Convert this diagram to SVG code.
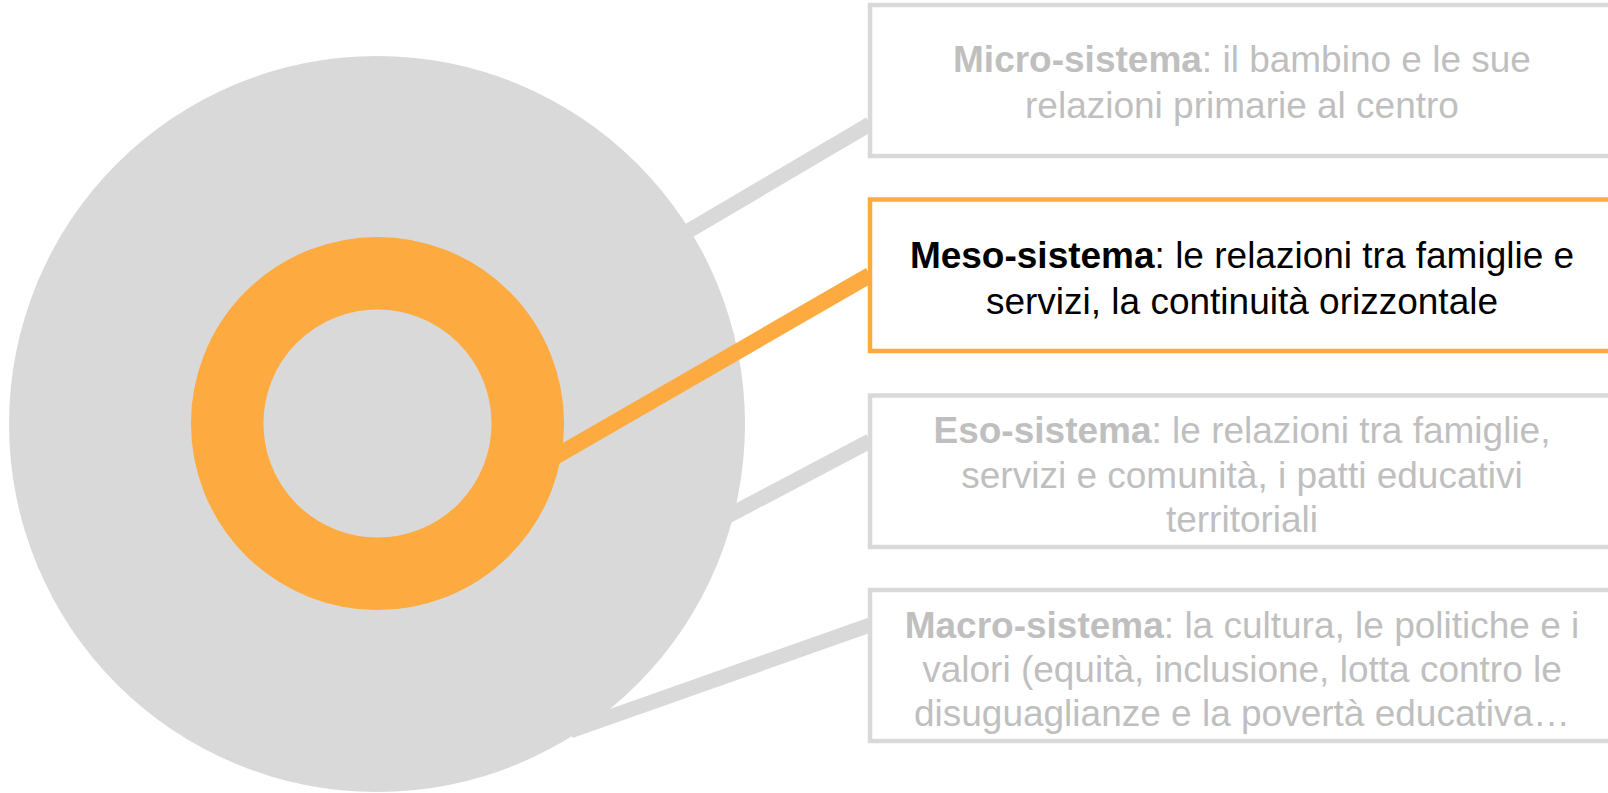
<svg xmlns="http://www.w3.org/2000/svg" width="1608" height="793" viewBox="0 0 1608 793">
<style>
.box{fill:#FFFFFF;stroke:#D9D9D9;stroke-width:4.5}
.box.hl{stroke:#FDAB41}
.t{font-family:"Liberation Sans",Arial,sans-serif;font-size:37px;text-anchor:middle;fill:#BFBFBF}
.t.hl{fill:#000000}
.b{font-weight:bold}
.ln{stroke:#D9D9D9;stroke-width:15;fill:none}
.ln.hl{stroke:#FDAB41;stroke-width:16}
</style>
<rect width="1608" height="793" fill="#FFFFFF"/>
<g id="outer-circle">
<circle cx="377" cy="424" r="368" fill="#D9D9D9"/>
</g>
<g id="meso-ring">
<circle cx="377.5" cy="423.5" r="150.3" fill="none" stroke="#FDAB41" stroke-width="72.5"/>
</g>
<g id="connectors">
<line class="ln" x1="600" y1="283" x2="870" y2="124"/>
<line class="ln hl" x1="520" y1="477" x2="870" y2="275"/>
<line class="ln" x1="650" y1="557" x2="870" y2="441"/>
<line class="ln" x1="570" y1="731" x2="870" y2="625"/>
</g>
<g id="micro">
<rect class="box" x="870" y="5" width="744" height="151"/>
<text class="t" x="1242" y="72"><tspan class="b">Micro-sistema</tspan>: il bambino e le sue</text>
<text class="t" x="1242" y="118">relazioni primarie al centro</text>
</g>
<g id="meso">
<rect class="box hl" x="870" y="199.5" width="744" height="151.5"/>
<text class="t hl" x="1242" y="267.5"><tspan class="b">Meso-sistema</tspan>: le relazioni tra famiglie e</text>
<text class="t hl" x="1242" y="313.5">servizi, la continuità orizzontale</text>
</g>
<g id="eso">
<rect class="box" x="870" y="395.5" width="744" height="151.5"/>
<text class="t" x="1242" y="443"><tspan class="b">Eso-sistema</tspan>: le relazioni tra famiglie,</text>
<text class="t" x="1242" y="488">servizi e comunità, i patti educativi</text>
<text class="t" x="1242" y="532">territoriali</text>
</g>
<g id="macro">
<rect class="box" x="870" y="590" width="744" height="151"/>
<text class="t" x="1242" y="638"><tspan class="b">Macro-sistema</tspan>: la cultura, le politiche e i</text>
<text class="t" x="1242" y="682">valori (equità, inclusione, lotta contro le</text>
<text class="t" x="1242" y="726">disuguaglianze e la povertà educativa…</text>
</g>
</svg>
